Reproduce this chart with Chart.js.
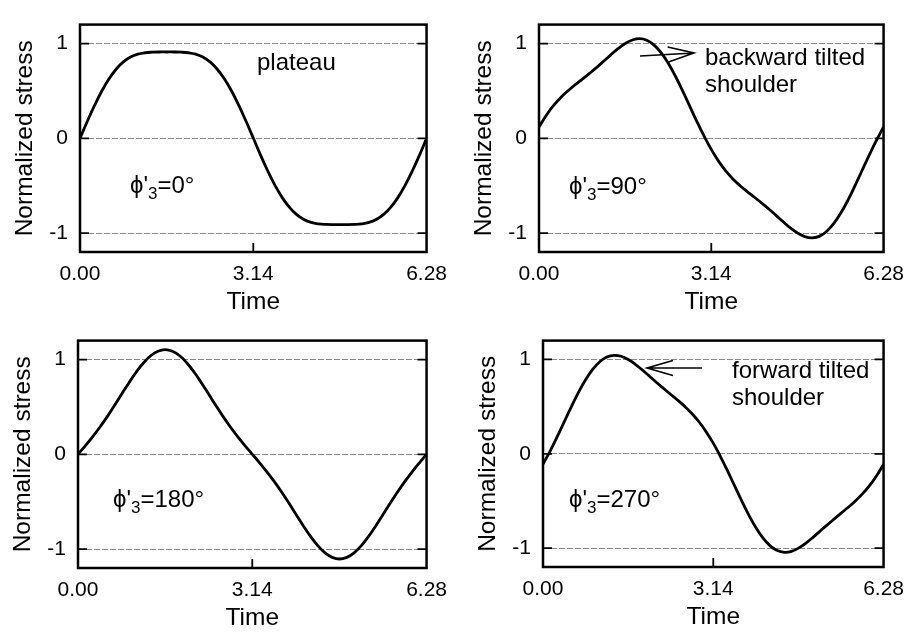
<!DOCTYPE html>
<html>
<head>
<meta charset="utf-8">
<script src="https://cdn.jsdelivr.net/npm/chart.js@4.4.1/dist/chart.umd.min.js"></script>
<style>
  html, body { margin: 0; padding: 0; background: #fff; }
  #wrap { position: relative; width: 914px; height: 635px; }
  canvas { position: absolute; }
</style>
</head>
<body>
<div id="wrap">
  <canvas id="p0"></canvas>
  <canvas id="p90"></canvas>
  <canvas id="p180"></canvas>
  <canvas id="p270"></canvas>
</div>
<script>
// time samples (rad), read every 7.5 degrees
const times = [0, 0.131, 0.262, 0.393, 0.524, 0.654, 0.785, 0.916, 1.047, 1.178, 1.309, 1.440, 1.571,
               1.702, 1.833, 1.963, 2.094, 2.225, 2.356, 2.487, 2.618, 2.749, 2.880, 3.011, 3.142,
               3.272, 3.403, 3.534, 3.665, 3.796, 3.927, 4.058, 4.189, 4.320, 4.451, 4.581, 4.712,
               4.843, 4.974, 5.105, 5.236, 5.367, 5.498, 5.629, 5.760, 5.890, 6.021, 6.152, 6.28];
const timeTicks = [0, 3.14, 6.28];
const stressTicks = [-1, 0, 1];

// normalized stress
const stress0 = [0, 0.177, 0.345, 0.497, 0.626, 0.729, 0.806, 0.857, 0.888, 0.903, 0.909, 0.911, 0.911,
                 0.911, 0.909, 0.903, 0.888, 0.857, 0.806, 0.729, 0.626, 0.497, 0.345, 0.177, 0,
                 -0.177, -0.345, -0.497, -0.626, -0.729, -0.806, -0.857, -0.888, -0.903, -0.909, -0.911, -0.911,
                 -0.911, -0.909, -0.903, -0.888, -0.857, -0.806, -0.729, -0.626, -0.497, -0.345, -0.177, 0];
const stress90 = [0.120, 0.241, 0.344, 0.429, 0.500, 0.563, 0.622, 0.683, 0.746, 0.813, 0.881, 0.946, 1.000,
                  1.037, 1.051, 1.035, 0.986, 0.904, 0.792, 0.655, 0.500, 0.337, 0.174, 0.020, -0.120,
                  -0.241, -0.344, -0.429, -0.500, -0.563, -0.622, -0.683, -0.746, -0.813, -0.881, -0.946, -1.000,
                  -1.037, -1.051, -1.035, -0.986, -0.904, -0.792, -0.655, -0.500, -0.337, -0.174, -0.020, 0.120];
const stress180 = [0, 0.090, 0.185, 0.286, 0.395, 0.512, 0.633, 0.753, 0.866, 0.964, 1.040, 1.088, 1.105,
                   1.088, 1.040, 0.964, 0.866, 0.753, 0.633, 0.512, 0.395, 0.286, 0.185, 0.090, 0,
                   -0.090, -0.185, -0.286, -0.395, -0.512, -0.633, -0.753, -0.866, -0.964, -1.040, -1.088, -1.105,
                   -1.088, -1.040, -0.964, -0.866, -0.753, -0.633, -0.512, -0.395, -0.286, -0.185, -0.090, 0];
const stress270 = [-0.110, 0.029, 0.181, 0.341, 0.500, 0.651, 0.785, 0.895, 0.976, 1.026, 1.044, 1.034, 1.000,
                   0.949, 0.888, 0.822, 0.756, 0.692, 0.629, 0.567, 0.500, 0.425, 0.337, 0.232, 0.110,
                   -0.029, -0.181, -0.341, -0.500, -0.651, -0.785, -0.895, -0.976, -1.026, -1.044, -1.034, -1.000,
                   -0.949, -0.888, -0.822, -0.756, -0.692, -0.629, -0.567, -0.500, -0.425, -0.337, -0.232, -0.110];

const FONT = '"Liberation Sans", Arial, sans-serif';

// frame, inward ticks and annotation texts
const decoPlugin = {
  id: 'deco',
  afterDraw(chart) {
    const ctx = chart.ctx;
    const a = chart.chartArea;
    const xs = chart.scales.x, ys = chart.scales.y;
    ctx.save();
    ctx.strokeStyle = '#000';
    ctx.lineWidth = 1.8;
    stressTicks.forEach(v => {
      const py = ys.getPixelForValue(v);
      ctx.beginPath();
      ctx.moveTo(a.left, py); ctx.lineTo(a.left + 9, py);
      ctx.moveTo(a.right, py); ctx.lineTo(a.right - 9, py);
      ctx.stroke();
    });
    const mx = xs.getPixelForValue(3.14);
    ctx.beginPath();
    ctx.moveTo(mx, a.bottom); ctx.lineTo(mx, a.bottom - 9);
    ctx.stroke();
    ctx.lineWidth = 2.5;
    ctx.strokeRect(a.left, a.top, a.right - a.left, a.bottom - a.top);

    const opt = chart.options.plugins.deco;
    ctx.fillStyle = '#000';
    ctx.textBaseline = 'alphabetic';
    (opt.texts || []).forEach(t => {
      ctx.font = '24px ' + FONT;
      ctx.fillText(t.text, t.x, t.y);
    });
    // phase label with subscript
    const ph = opt.phase;
    let x = ph.x;
    ctx.font = '24px ' + FONT;
    ctx.fillText("\u03D5'", x, ph.y);
    x += ctx.measureText("\u03D5'").width;
    ctx.font = '17px ' + FONT;
    ctx.fillText('3', x, ph.y + 6);
    x += ctx.measureText('3').width;
    ctx.font = '24px ' + FONT;
    ctx.fillText('=' + ph.deg + '\u00B0', x, ph.y);

    const ar = opt.arrow;
    if (ar) {
      ctx.lineWidth = 1.6;
      ctx.beginPath();
      ctx.moveTo(ar.x0, ar.y0); ctx.lineTo(ar.x1, ar.y1);
      const ang = Math.atan2(ar.y1 - ar.y0, ar.x1 - ar.x0);
      const L = 27, w = 0.28;
      ctx.moveTo(ar.x1 - L * Math.cos(ang - w), ar.y1 - L * Math.sin(ang - w));
      ctx.lineTo(ar.x1, ar.y1);
      ctx.lineTo(ar.x1 - L * Math.cos(ang + w), ar.y1 - L * Math.sin(ang + w));
      ctx.stroke();
    }
    ctx.restore();
  }
};

function makePanel(id, left, top, W, H, area, values, deco) {
  const cv = document.getElementById(id);
  cv.width = W; cv.height = H;
  cv.style.left = left + 'px'; cv.style.top = top + 'px';
  cv.style.width = W + 'px'; cv.style.height = H + 'px';
  const pts = times.map((t, i) => ({ x: t, y: values[i] }));
  new Chart(cv, {
    type: 'line',
    data: {
      datasets: [{
        data: pts,
        borderColor: '#000',
        borderWidth: 2.8,
        pointRadius: 0,
        tension: 0.4,
        fill: false
      }]
    },
    options: {
      responsive: false,
      animation: false,
      layout: { padding: { left: 0, top: area.top, right: W - area.right, bottom: 0 } },
      plugins: { legend: { display: false }, tooltip: { enabled: false }, deco: deco },
      scales: {
        x: {
          type: 'linear', min: 0, max: 6.28,
          afterBuildTicks: s => { s.ticks = timeTicks.map(v => ({ value: v })); },
          afterFit: s => { s.height = H - area.bottom; },
          grid: { display: false, drawTicks: false },
          border: { display: false },
          ticks: {
            padding: 10, color: '#000',
            font: { family: FONT, size: 21 },
            maxRotation: 0,
            callback: v => v.toFixed(2)
          },
          title: {
            display: true, text: 'Time', color: '#000',
            font: { family: FONT, size: 24.5 },
            padding: { top: 0, bottom: H - area.bottom - 50 - 14.7 }
          }
        },
        y: {
          min: -1.2, max: 1.2,
          afterBuildTicks: s => { s.ticks = stressTicks.map(v => ({ value: v })); },
          afterFit: s => { s.width = area.left; },
          grid: { color: '#888', lineWidth: 1, drawTicks: false },
          border: { display: false, dash: [6, 2] },
          ticks: {
            padding: 12, color: '#000',
            font: { family: FONT, size: 21 },
            callback: v => String(v)
          },
          title: {
            display: true, text: 'Normalized stress', color: '#000',
            font: { family: FONT, size: 24.5 },
            padding: { top: area.left - 55 - 14.7, bottom: 0 }
          }
        }
      }
    },
    plugins: [decoPlugin]
  });
}

makePanel('p0', 0, 0, 457, 316, { left: 80, right: 428, top: 13, bottom: 252 }, stress0, {
  texts: [{ text: 'plateau', x: 257, y: 70 }],
  phase: { x: 130, y: 193, deg: 0 }
});
makePanel('p90', 457, 0, 457, 316, { left: 82, right: 428, top: 12, bottom: 252 }, stress90, {
  texts: [{ text: 'backward tilted', x: 248, y: 65 }, { text: 'shoulder', x: 248, y: 92 }],
  phase: { x: 112, y: 194, deg: 90 },
  arrow: { x0: 183, y0: 56, x1: 237, y1: 53 }
});
makePanel('p180', 0, 316, 457, 319, { left: 78, right: 427, top: 11, bottom: 252 }, stress180, {
  texts: [],
  phase: { x: 113, y: 191, deg: 180 }
});
makePanel('p270', 457, 316, 457, 319, { left: 86, right: 433, top: 12, bottom: 251 }, stress270, {
  texts: [{ text: 'forward tilted', x: 275, y: 62 }, { text: 'shoulder', x: 275, y: 89 }],
  phase: { x: 112, y: 191, deg: 270 },
  arrow: { x0: 245, y0: 52, x1: 190, y1: 52 }
});
</script>
</body>
</html>
